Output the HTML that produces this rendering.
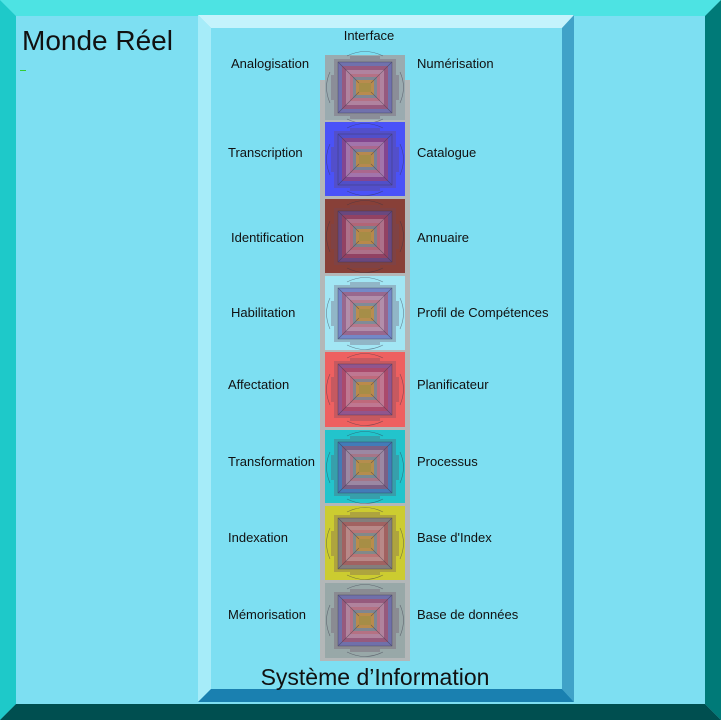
<!DOCTYPE html>
<html><head><meta charset="utf-8"><style>
html,body{margin:0;padding:0;background:#7ddff2}
svg{display:block}
text{font-family:"Liberation Sans",sans-serif;fill:#111}
</style></head><body>
<svg width="721" height="720" viewBox="0 0 721 720" xmlns="http://www.w3.org/2000/svg">
<defs>
<symbol id="p" viewBox="0 0 80 75" width="80" height="75">
<path d="M9 9H25V6H55V9H71V25H74V50H71V66H55V69H25V66H9V50H6V25H9Z" fill="#6a4a60" opacity=".3"/>
<rect x="13" y="12" width="54" height="51" fill="#5050c8" opacity=".45"/>
<rect x="17" y="16" width="46" height="43" fill="#d03a3a" opacity=".4"/>
<rect x="21" y="20" width="38" height="35" fill="#fff" opacity=".25"/>
<rect x="25" y="24" width="30" height="27" fill="#c04848" opacity=".3"/>
<rect x="28" y="27" width="24" height="21" fill="#30a8a8" opacity=".4"/>
<rect x="31" y="30" width="18" height="15" fill="#e09020" opacity=".6"/>
<rect x="34" y="33" width="12" height="9" fill="#909040" opacity=".45"/>
<g stroke="#334" stroke-width=".6" opacity=".55" fill="none">
<rect x="13" y="12" width="54" height="51"/>
<line x1="13" y1="12" x2="34" y2="33"/><line x1="67" y1="12" x2="46" y2="33"/>
<line x1="13" y1="63" x2="34" y2="42"/><line x1="67" y1="63" x2="46" y2="42"/>
<path d="M22 6Q40 -3 58 6"/><path d="M22 69Q40 78 58 69"/>
<path d="M5 22Q-2 37 5 53"/><path d="M75 22Q82 37 75 53"/>
</g>
</symbol>
</defs>
<rect width="721" height="720" fill="#7ddff2"/>
<polygon points="0,0 721,0 705,16 16,16" fill="#4de3e3"/>
<polygon points="0,0 16,16 16,704 0,720" fill="#1ec9c9"/>
<polygon points="721,0 721,720 705,704 705,16" fill="#007a78"/>
<polygon points="0,720 16,704 705,704 721,720" fill="#004f50"/>
<polygon points="198,15 574,15 562,28 211,28" fill="#c4f3fc"/>
<polygon points="198,15 211,28 211,689 198,702" fill="#a6ecf9"/>
<polygon points="574,15 574,702 562,689 562,28" fill="#40a2c8"/>
<polygon points="198,702 211,689 562,689 574,702" fill="#1a80b0"/>
<rect x="320" y="80" width="90" height="581" fill="#b3b7b8"/>
<g>
<rect x="325" y="55" width="80" height="65" fill="#9aabb0"/><use href="#p" x="325" y="50"/>
<rect x="325" y="122" width="80" height="74" fill="#4a52f8"/><use href="#p" x="325" y="122"/>
<rect x="325" y="199" width="80" height="74" fill="#884038"/><use href="#p" x="325" y="199"/>
<rect x="325" y="276" width="80" height="74" fill="#a2e6f4"/><use href="#p" x="325" y="276"/>
<rect x="325" y="352" width="80" height="75" fill="#ee6060"/><use href="#p" x="325" y="352"/>
<rect x="325" y="430" width="80" height="73" fill="#22c4cc"/><use href="#p" x="325" y="430"/>
<rect x="325" y="506" width="80" height="74" fill="#cccc30"/><use href="#p" x="325" y="506"/>
<rect x="325" y="583" width="80" height="75" fill="#98a8a8"/><use href="#p" x="325" y="583"/>
</g>
<text x="22" y="50" font-size="28">Monde Réel</text>
<rect x="20" y="70" width="6" height="1" fill="#3c3"/>
<text x="369" y="40" font-size="13" text-anchor="middle">Interface</text>
<g font-size="13">
<text x="231" y="68">Analogisation</text>
<text x="228" y="157">Transcription</text>
<text x="231" y="242">Identification</text>
<text x="231" y="317">Habilitation</text>
<text x="228" y="389">Affectation</text>
<text x="228" y="466">Transformation</text>
<text x="228" y="542">Indexation</text>
<text x="228" y="619">Mémorisation</text>
<text x="417" y="68">Numérisation</text>
<text x="417" y="157">Catalogue</text>
<text x="417" y="242">Annuaire</text>
<text x="417" y="317">Profil de Compétences</text>
<text x="417" y="389">Planificateur</text>
<text x="417" y="466">Processus</text>
<text x="417" y="542">Base d'Index</text>
<text x="417" y="619">Base de données</text>
</g>
<text x="375" y="685" font-size="23" text-anchor="middle">Système d’Information</text>
</svg>
</body></html>
